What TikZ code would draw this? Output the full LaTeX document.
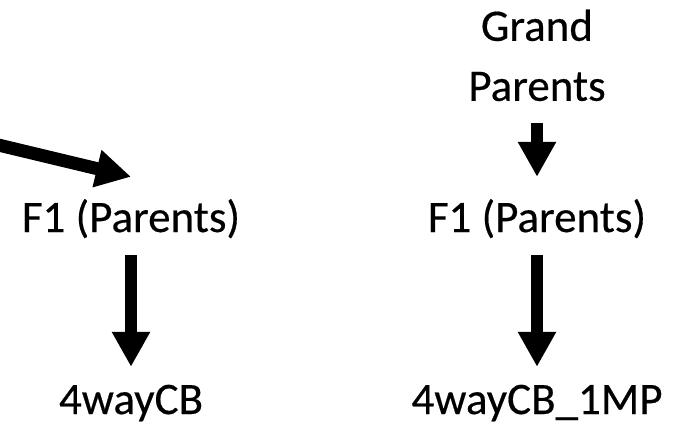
\documentclass[tikz,border=0pt]{standalone}
\usepackage{fontspec}
\setmainfont{Carlito}[FakeBold=0.4]
\usetikzlibrary{arrows.meta}

\tikzset{
  label text/.style={inner sep=0pt, text height=29pt, text depth=0pt,
    font=\fontsize{45}{60}\selectfont},
  bigarrow/.style={line width=12pt, -{Triangle[length=35pt,width=36pt]}},
}

\begin{document}
\begin{tikzpicture}[x=1pt,y=-1pt]
  \useasboundingbox (0,0) rectangle (675,433);

  % left column
  \node[label text, anchor=base] (f1L) at (131,232) {F1 (Parents)};
  \node[label text, anchor=base] (cbL) at (131,414) {4wayCB};

  % right column
  \node[label text, anchor=south, align=center] (gp) at (537,101) {Grand\\Parents};
  \node[label text, anchor=base] (f1R) at (537,232) {F1 (Parents)};
  \node[label text, anchor=base] (cbR) at (537,414) {4wayCB\_1MP};

  % incoming arrow from the left edge
  \coordinate (inL) at (-40,135.8);

  \draw[bigarrow, line width=13pt] (inL) -- ([yshift=26pt]f1L.north);
  \draw[bigarrow, shorten <=23pt, shorten >=18pt] (f1L.south) -- (cbL.north);
  \draw[bigarrow, shorten <=22pt, shorten >=26pt] (gp.south) -- (f1R.north);
  \draw[bigarrow, shorten <=23pt, shorten >=18pt] (f1R.south) -- (cbR.north);
\end{tikzpicture}
\end{document}
